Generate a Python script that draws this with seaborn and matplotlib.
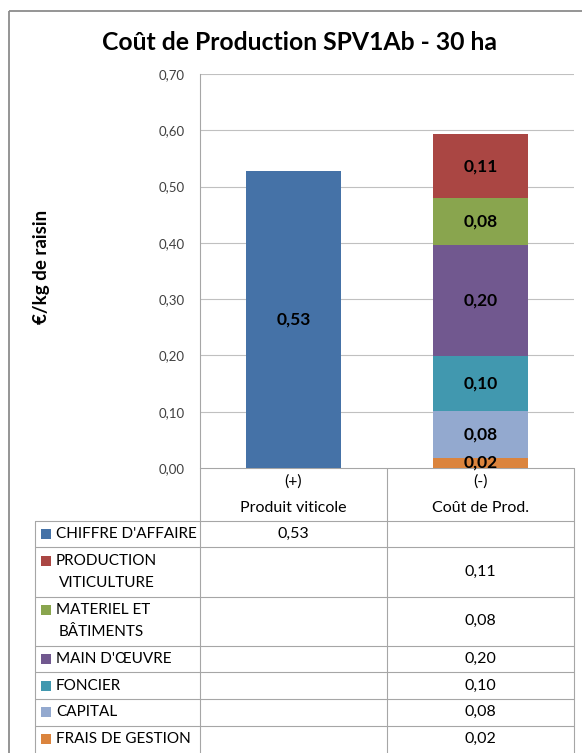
import numpy as np
import pandas as pd
import matplotlib
matplotlib.use("Agg")
import matplotlib.pyplot as plt
import seaborn as sns
from matplotlib.patches import Rectangle

# ---------------- data ----------------
title = "Coût de Production SPV1Ab - 30 ha"
ylabel = "€/kg de raisin"
cat_signs = ["(+)", "(-)"]
categories = ["Produit viticole", "Coût de Prod."]
# series in table order (top of stack first for the cost bar)
series = ["CHIFFRE D'AFFAIRE", "PRODUCTION\nVITICULTURE", "MATERIEL ET\nBÂTIMENTS",
          "MAIN D'ŒUVRE", "FONCIER", "CAPITAL", "FRAIS DE GESTION"]
series_category = ["Produit viticole", "Coût de Prod.", "Coût de Prod.",
                   "Coût de Prod.", "Coût de Prod.", "Coût de Prod.", "Coût de Prod."]
series_values = [0.527, 0.113, 0.083, 0.198, 0.098, 0.083, 0.018]
colors = ["#4572A7", "#AA4643", "#89A54E", "#71588F", "#4198AF", "#93A9CF", "#DB843D"]
yticks = [0.0, 0.1, 0.2, 0.3, 0.4, 0.5, 0.6, 0.7]

def fmt(v):
    return f"{v:.2f}".replace(".", ",")

# stacked bottoms (bottom-up = reverse of table order)
df = pd.DataFrame({"series": series, "cat": series_category, "value": series_values, "color": colors})
df["bottom"] = 0.0
acc = {c: 0.0 for c in categories}
for i in reversed(range(len(df))):
    c = df.loc[i, "cat"]
    df.loc[i, "bottom"] = acc[c]
    acc[c] += df.loc[i, "value"]
df["top"] = df["bottom"] + df["value"]

# ---------------- figure ----------------
sns.set_style("white")
plt.rcParams["font.family"] = ["Lato", "DejaVu Sans"]

W, H = 582, 753
fig = plt.figure(figsize=(W / 100, H / 100), dpi=100)

ax_l, ax_r, ax_t, ax_b = 200, 574, 74, 468
ax = fig.add_axes([ax_l / W, 1 - ax_b / H, (ax_r - ax_l) / W, (ax_b - ax_t) / H])

# draw tallest first so smaller cumulative bars cover them
for i in range(len(df)):
    sub = df.iloc[[i]]
    sns.barplot(data=sub, x="cat", y="top", order=categories, color=df.loc[i, "color"],
                saturation=1, width=0.513, errorbar=None, linewidth=0, ax=ax, zorder=3)

for i in range(len(df)):
    xi = categories.index(df.loc[i, "cat"])
    ymid = df.loc[i, "bottom"] + df.loc[i, "value"] / 2
    ax.text(xi, ymid, fmt(df.loc[i, "value"]), ha="center", va="center",
            fontsize=12.5, fontweight="bold", color="black", zorder=5)

ax.set_xlim(-0.5, 1.5)
ax.set_ylim(0, 0.7)
ax.set_yticks(yticks)
ax.set_yticklabels([fmt(v) for v in yticks], fontsize=9.5, color="#404040")
ax.set_xticks([])
ax.set_xlabel("")
ax.set_ylabel("")
ax.tick_params(axis="y", length=0, pad=11)
for s in ["top", "right", "bottom"]:
    ax.spines[s].set_visible(False)
ax.spines["left"].set_color("#A6A6A6")
ax.spines["left"].set_linewidth(0.8)
ax.yaxis.grid(True, color="#C0C0C0", linewidth=0.8, zorder=0)
ax.set_axisbelow(True)

# ---------------- overlay (title, y label, data table) ----------------
ov = fig.add_axes([0, 0, 1, 1], zorder=-1)
ov.set_xlim(0, W)
ov.set_ylim(H, 0)
ov.axis("off")

ov.add_patch(Rectangle((9, 11), 700, 900, fill=False, edgecolor="#8C8C8C", linewidth=1.3))
ov.text(300, 42, title, ha="center", va="center", fontsize=17.8, fontweight="bold", color="black")
ov.text(42, 267, ylabel, ha="center", va="center", rotation=90, fontsize=13.5,
        fontweight="bold", color="black")

lc = "#A6A6A6"
lw = 0.8
tab_left, col1, col2 = 35, 387, 574
header_bottom = 520.7
row_bounds = [520.7, 547, 596.7, 645.7, 672, 699, 725.7, 760]

# vertical lines
ov.plot([ax_l, ax_l], [ax_b, 760], color=lc, lw=lw)
ov.plot([col1, col1], [ax_b, 760], color=lc, lw=lw)
ov.plot([col2, col2], [ax_b, 760], color=lc, lw=lw)
ov.plot([tab_left, tab_left], [header_bottom, 760], color=lc, lw=lw)
# horizontal lines
ov.plot([ax_l, col2], [ax_b, ax_b], color=lc, lw=lw)
for yb in row_bounds[:-1]:
    ov.plot([tab_left, col2], [yb, yb], color=lc, lw=lw)

# header
cat_x = [293.5, 480.5]
for j, c in enumerate(categories):
    ov.text(cat_x[j], 482, cat_signs[j], ha="center", va="center", fontsize=11.5, color="black")
    ov.text(cat_x[j], 508, c, ha="center", va="center", fontsize=11.5, color="black")

# rows
for i in range(len(df)):
    y0, y1 = row_bounds[i], row_bounds[i + 1]
    yc = (y0 + y1) / 2
    if i == len(df) - 1:
        yc = y0 + 13.5
    lines = df.loc[i, "series"].split("\n")
    if len(lines) == 1:
        ys = [yc]
    else:
        ys = [yc - 11, yc + 11]
    ov.add_patch(Rectangle((41, ys[0] - 5), 10, 10, facecolor=df.loc[i, "color"], edgecolor="none"))
    for k, (ln, yy) in enumerate(zip(lines, ys)):
        ov.text(56 if k == 0 else 59, yy, ln, ha="left", va="center", fontsize=11, color="black")
    xi = categories.index(df.loc[i, "cat"])
    ov.text(cat_x[xi], yc, fmt(df.loc[i, "value"]), ha="center", va="center",
            fontsize=11.5, color="black")

fig.savefig("out.png", dpi=100)
